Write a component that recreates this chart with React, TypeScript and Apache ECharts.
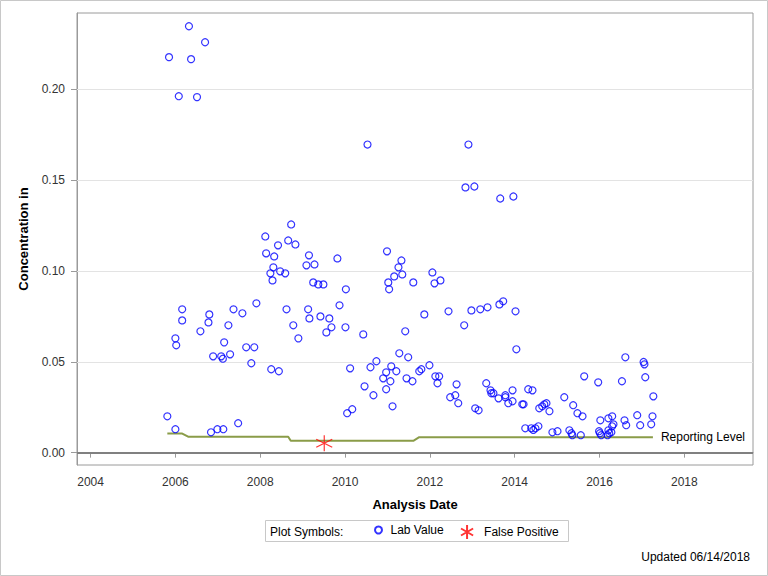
import React, { useEffect, useRef } from "react";
import * as echarts from "echarts";

// [decimal year, concentration]
const labValues: [number, number][] = [
  [2005.81, 0.0200], [2005.85, 0.2177], [2006.00, 0.0129], [2006.00, 0.0629], [2006.02, 0.0591],
  [2006.08, 0.1962], [2006.16, 0.0789], [2006.16, 0.0728], [2006.32, 0.2347], [2006.37, 0.2166],
  [2006.51, 0.1957], [2006.59, 0.0668], [2006.70, 0.2259], [2006.78, 0.0717], [2006.80, 0.0761],
  [2006.84, 0.0112], [2006.89, 0.0530], [2006.99, 0.0129], [2007.08, 0.0530], [2007.12, 0.0517],
  [2007.13, 0.0129], [2007.15, 0.0607], [2007.25, 0.0701], [2007.29, 0.0541], [2007.37, 0.0789],
  [2007.48, 0.0162], [2007.58, 0.0767], [2007.67, 0.0580], [2007.79, 0.0492], [2007.86, 0.0580],
  [2007.91, 0.0822],
  [2008.12, 0.1190], [2008.14, 0.1097], [2008.26, 0.0459], [2008.24, 0.0987], [2008.29, 0.0948],
  [2008.31, 0.1020], [2008.33, 0.1080], [2008.42, 0.1141], [2008.44, 0.0448], [2008.47, 0.0998],
  [2008.59, 0.0987], [2008.62, 0.0789], [2008.66, 0.1168], [2008.73, 0.1256], [2008.78, 0.0701],
  [2008.83, 0.1146], [2008.90, 0.0629], [2009.09, 0.1031], [2009.13, 0.0789], [2009.15, 0.1086],
  [2009.16, 0.0739], [2009.25, 0.0937], [2009.28, 0.1036], [2009.37, 0.0926], [2009.42, 0.0750],
  [2009.49, 0.0926], [2009.56, 0.0662], [2009.63, 0.0739], [2009.68, 0.0690], [2009.82, 0.1069],
  [2009.87, 0.0811], [2010.01, 0.0690], [2010.02, 0.0899], [2010.05, 0.0217], [2010.12, 0.0464],
  [2010.17, 0.0239], [2010.43, 0.0651], [2010.46, 0.0365], [2010.53, 0.1696], [2010.60, 0.0470],
  [2010.67, 0.0316], [2010.74, 0.0503], [2010.90, 0.0409], [2010.97, 0.0442], [2010.97, 0.0349],
  [2010.99, 0.1108], [2011.02, 0.0937], [2011.04, 0.0899], [2011.07, 0.0393], [2011.09, 0.0475],
  [2011.12, 0.0255], [2011.16, 0.0970], [2011.21, 0.0448], [2011.26, 0.1020], [2011.28, 0.0547],
  [2011.33, 0.1058], [2011.35, 0.0981], [2011.42, 0.0668], [2011.45, 0.0409], [2011.49, 0.0525],
  [2011.59, 0.0393], [2011.61, 0.0937], [2011.75, 0.0448], [2011.80, 0.0459], [2011.87, 0.0761],
  [2011.99, 0.0481], [2012.06, 0.0992], [2012.11, 0.0932], [2012.13, 0.0420], [2012.18, 0.0382],
  [2012.22, 0.0420], [2012.25, 0.0948], [2012.44, 0.0778], [2012.48, 0.0305], [2012.60, 0.0316],
  [2012.63, 0.0376], [2012.67, 0.0272], [2012.81, 0.0701], [2012.84, 0.1460], [2012.91, 0.1696],
  [2012.98, 0.0783], [2013.05, 0.1465], [2013.07, 0.0244], [2013.15, 0.0233], [2013.19, 0.0789],
  [2013.33, 0.0382], [2013.36, 0.0800], [2013.43, 0.0343], [2013.45, 0.0327], [2013.50, 0.0327],
  [2013.62, 0.0299], [2013.64, 0.0816], [2013.66, 0.1399], [2013.73, 0.0833], [2013.78, 0.0316],
  [2013.78, 0.0305], [2013.85, 0.0272], [2013.95, 0.0343], [2013.95, 0.0283], [2013.97, 0.1410],
  [2014.02, 0.0778], [2014.04, 0.0569], [2014.18, 0.0266], [2014.21, 0.0266], [2014.25, 0.0134],
  [2014.32, 0.0349], [2014.39, 0.0134], [2014.42, 0.0343], [2014.44, 0.0125], [2014.49, 0.0134],
  [2014.56, 0.0145], [2014.58, 0.0244], [2014.65, 0.0255], [2014.70, 0.0266], [2014.75, 0.0272],
  [2014.82, 0.0228], [2014.89, 0.0112], [2015.01, 0.0118], [2015.17, 0.0305], [2015.29, 0.0123],
  [2015.34, 0.0107], [2015.36, 0.0096], [2015.38, 0.0261], [2015.48, 0.0217], [2015.56, 0.0096],
  [2015.60, 0.0200], [2015.64, 0.0420], [2015.97, 0.0387], [2015.99, 0.0118], [2016.01, 0.0107],
  [2016.02, 0.0178], [2016.04, 0.0096], [2016.19, 0.0096], [2016.21, 0.0189], [2016.21, 0.0123],
  [2016.23, 0.0107], [2016.28, 0.0112], [2016.30, 0.0200], [2016.30, 0.0145], [2016.33, 0.0156],
  [2016.53, 0.0393], [2016.59, 0.0178], [2016.61, 0.0525], [2016.63, 0.0151], [2016.89, 0.0206],
  [2016.96, 0.0151], [2017.04, 0.0499], [2017.06, 0.0486], [2017.08, 0.0415], [2017.22, 0.0156],
  [2017.25, 0.0200], [2017.27, 0.0310],
];

const falsePositive: [number, number][] = [[2009.51, 0.0052]];

const reportingLevel: [number, number][] = [
  [2005.81, 0.0106], [2006.15, 0.0106], [2006.30, 0.0088], [2008.66, 0.0088],
  [2008.72, 0.0065], [2011.61, 0.0065], [2011.75, 0.0085], [2017.26, 0.0085],
];

const xTicks = [2004, 2006, 2008, 2010, 2012, 2014, 2016, 2018];
const yTicks = [0, 0.05, 0.1, 0.15, 0.2];
const gridValues = [0.05, 0.1, 0.15, 0.2];

const FONT = "'Liberation Sans', Arial, sans-serif";
const STAR = "path://M0,-10L0,10M-8.66,-5L8.66,5M-8.66,5L8.66,-5";

export default function App() {
  const ref = useRef<HTMLDivElement>(null);
  useEffect(() => {
    if (!ref.current) return;
    const chart = echarts.init(ref.current, undefined, { renderer: "svg" });
    const legendText = { fontSize: 12, color: "#000", fontFamily: FONT };
    chart.setOption({
      animation: false,
      backgroundColor: "#fff",
      textStyle: { fontFamily: FONT },
      grid: {
        left: 77, right: 15, top: 13, bottom: 111,
        show: true, borderColor: "#9a9a9a", borderWidth: 1,
      },
      xAxis: {
        type: "value",
        min: 2003.68, max: 2019.62,
        name: "Analysis Date",
        nameLocation: "middle",
        nameGap: 33,
        nameTextStyle: { fontSize: 13, fontWeight: "bold", color: "#000", fontFamily: FONT },
        axisLine: { show: true, lineStyle: { color: "#9a9a9a" } },
        axisTick: { show: true, length: 5, customValues: xTicks, lineStyle: { color: "#9a9a9a" } },
        axisLabel: {
          customValues: xTicks, margin: 11, fontSize: 12, color: "#333", fontFamily: FONT,
          formatter: (v: number) => String(Math.round(v)),
        },
        splitLine: { show: false },
      },
      yAxis: {
        type: "value",
        min: -0.0068, max: 0.242,
        name: "Concentration in",
        nameLocation: "middle",
        nameGap: 47,
        nameTextStyle: { fontSize: 13, fontWeight: "bold", color: "#000", fontFamily: FONT },
        axisLine: { show: true, lineStyle: { color: "#9a9a9a" } },
        axisTick: { show: true, length: 6, customValues: yTicks, lineStyle: { color: "#9a9a9a" } },
        axisLabel: {
          customValues: yTicks, margin: 12, fontSize: 12, color: "#333", fontFamily: FONT,
          formatter: (v: number) => v.toFixed(2),
        },
        splitLine: { show: false },
      },
      legend: [
        {
          data: ["Lab Value"],
          left: 374, top: 524, padding: 0,
          itemWidth: 14, itemHeight: 7,
          textStyle: legendText,
          selectedMode: false,
        },
        {
          data: ["False Positive"],
          left: 460, top: 524, padding: 0,
          itemWidth: 24, itemHeight: 14,
          textStyle: legendText,
          selectedMode: false,
        },
      ],
      graphic: [
        { type: "rect", shape: { x: 0.5, y: 0.5, width: 767, height: 575 }, style: { fill: "none", stroke: "#c8c8c8", lineWidth: 1 }, silent: true },
        { type: "rect", shape: { x: 265.5, y: 520.5, width: 303, height: 21 }, style: { fill: "none", stroke: "#c8c8c8", lineWidth: 1 }, silent: true },
        { type: "text", x: 270, y: 531.5, style: { text: "Plot Symbols:", fontSize: 12, fill: "#000", fontFamily: FONT, verticalAlign: "middle" }, silent: true },
        { type: "text", x: 750, y: 557, style: { text: "Updated 06/14/2018", fontSize: 12, fill: "#000", fontFamily: FONT, align: "right", verticalAlign: "middle" }, silent: true },
      ],
      series: [
        {
          name: "Reporting Level",
          type: "line",
          data: reportingLevel,
          symbol: "none",
          z: 2,
          lineStyle: { color: "#8a9c48", width: 2 },
          endLabel: { show: true, formatter: "Reporting Level", distance: 8, fontSize: 12, color: "#000", fontFamily: FONT },
          markLine: {
            silent: true,
            z: 1,
            symbol: ["none", "none"],
            label: { show: false },
            data: [
              ...gridValues.map((v) => ({ yAxis: v, lineStyle: { color: "#e3e3e3", width: 1, type: "solid" } })),
              { yAxis: 0, lineStyle: { color: "#808080", width: 2, type: "solid" } },
            ],
          },
        },
        {
          name: "Lab Value",
          type: "scatter",
          data: labValues,
          symbol: "circle",
          symbolSize: 7,
          z: 3,
          itemStyle: { color: "rgba(0,0,0,0)", borderColor: "#0000ff", borderWidth: 1.2 },
        },
        {
          name: "False Positive",
          type: "scatter",
          data: falsePositive,
          symbol: STAR,
          symbolSize: 16,
          z: 4,
          itemStyle: { color: "rgba(0,0,0,0)", borderColor: "#ff0000", borderWidth: 1.2 },
        },
      ],
    });
    return () => chart.dispose();
  }, []);
  return <div ref={ref} style={{ position: "fixed", left: 0, top: 0, width: 768, height: 576 }} />;
}
